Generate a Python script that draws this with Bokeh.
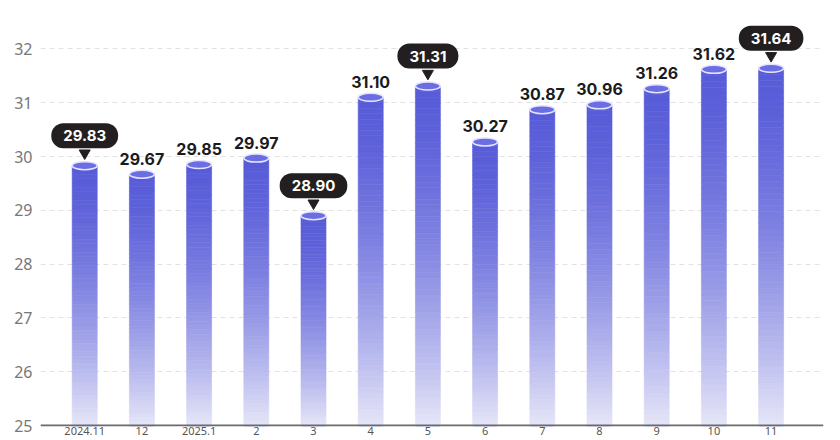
import numpy as np
from bokeh.plotting import figure
from bokeh.models import Range1d, FixedTicker, Span
from bokeh.embed import file_html
from bokeh.resources import INLINE
from bokeh.core.properties import value

# ---- data ----
months = ["2024.11", "12", "2025.1", "2", "3", "4", "5", "6", "7", "8", "9", "10", "11"]
prices = [29.83, 29.67, 29.85, 29.97, 28.90, 31.10, 31.31, 30.27, 30.87, 30.96, 31.26, 31.62, 31.64]
callout_idx = [0, 4, 6, 12]
y_ticks = [25, 26, 27, 28, 29, 30, 31, 32]
base = 25

# ---- layout (pixels) ----
PPX = 57.2      # px per category
PPY = 53.8      # px per unit on y
FRAME_W = 783
FRAME_H = 426
x_start = -44.2 / PPX
x_end = x_start + FRAME_W / PPX
y_start = base - 1 / PPY
y_end = y_start + FRAME_H / PPY
BAR_W = 25 / PPX

p = figure(frame_width=FRAME_W, frame_height=FRAME_H,
           x_range=Range1d(x_start, x_end), y_range=Range1d(y_start, y_end),
           output_backend="svg", toolbar_location=None,
           min_border_left=40, min_border_right=17, min_border_top=0, min_border_bottom=0)
p.outline_line_color = None
p.background_fill_color = "white"
p.border_fill_color = "white"

# grid
p.xgrid.grid_line_color = None
p.ygrid.ticker = FixedTicker(ticks=y_ticks)
p.ygrid.grid_line_color = "#e2e2e2"
p.ygrid.grid_line_dash = "5 4"
p.ygrid.grid_line_width = 1

# axes
p.yaxis.ticker = FixedTicker(ticks=y_ticks)
p.yaxis.axis_line_color = None
p.yaxis.major_tick_line_color = None
p.yaxis.minor_tick_line_color = None
p.yaxis.major_tick_in = 0
p.yaxis.major_tick_out = 0
p.yaxis.major_label_text_font = "Noto Sans"
p.yaxis.major_label_text_font_size = "16px"
p.yaxis.major_label_text_color = "#777777"
p.yaxis.major_label_standoff = 8

xs = list(range(len(months)))
p.xaxis.ticker = FixedTicker(ticks=xs)
p.xaxis.major_label_overrides = {i: m for i, m in zip(xs, months)}
p.xaxis.axis_line_color = None
p.xaxis.major_tick_line_color = None
p.xaxis.minor_tick_line_color = None
p.xaxis.major_tick_in = 0
p.xaxis.major_tick_out = 0
p.xaxis.major_label_text_font = "Noto Sans"
p.xaxis.major_label_text_font_size = "11px"
p.xaxis.major_label_text_color = "#555555"
p.xaxis.major_label_standoff = 0

# bottom ellipses
p.ellipse(x=xs, y=[base] * len(xs), width=25, height=7,
          width_units="screen", height_units="screen",
          fill_color="#c4c5ee", line_color=None)

# gradient bars (sliced)
top_col = np.array([88, 92, 216])
bot_col = np.array([230, 230, 248])
N = 60
L, R, B, T, C = [], [], [], [], []
for i, v in zip(xs, prices):
    edges = np.linspace(base, v, N + 1)
    for k in range(N):
        mid = 0.5 * (edges[k] + edges[k + 1])
        s = (v - mid) / (v - base)
        c = top_col + (bot_col - top_col) * (s ** 1.6)
        L.append(i - BAR_W / 2)
        R.append(i + BAR_W / 2)
        B.append(edges[k])
        T.append(edges[k + 1])
        C.append("#%02x%02x%02x" % tuple(int(round(x)) for x in c))
p.quad(left=L, right=R, bottom=B, top=T, fill_color=C, line_color=C, line_width=0.6)

# cylinder caps
p.ellipse(x=xs, y=prices, width=25, height=8,
          width_units="screen", height_units="screen",
          fill_color="#6a6ee2", line_color="#e4e4ff", line_width=1.5)

# plain value labels
plain = [i for i in xs if i not in callout_idx]
p.text(x=plain, y=[prices[i] + 15.5 / PPY for i in plain],
       text=["%.2f" % prices[i] for i in plain],
       text_align="center", text_baseline="middle",
       text_font=value("Inter"), text_font_style="bold",
       text_font_size="16px", text_color="#1b1b1b")

# callouts
p.scatter(x=callout_idx, y=[prices[i] + 12.5 / PPY for i in callout_idx],
          marker="inverted_triangle", size=11,
          fill_color="#231f20", line_color="#231f20")
p.text(x=callout_idx, y=[prices[i] + 30.0 / PPY for i in callout_idx],
       text=["%.2f" % prices[i] for i in callout_idx],
       text_align="center", text_baseline="middle",
       text_font=value("Inter"), text_font_style="bold",
       text_font_size="15px", text_color="white",
       background_fill_color="#231f20",
       padding=dict(left=12, right=12, top=7, bottom=7),
       border_radius=12)

# base axis line
p.add_layout(Span(location=base, dimension="width", line_color="#6b6b6b", line_width=2))

open("out.html", "w").write(file_html(p, INLINE))
